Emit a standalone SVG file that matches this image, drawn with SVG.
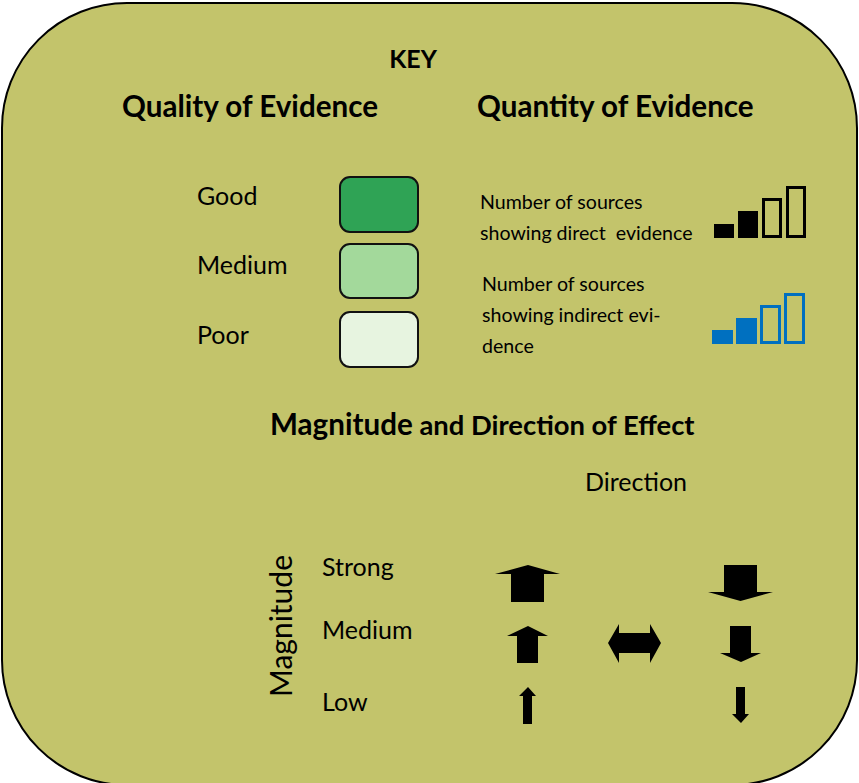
<svg xmlns="http://www.w3.org/2000/svg" width="859" height="783" viewBox="0 0 859 783">
  <style>
    text { font-family: Lato, "Open Sans", "Liberation Sans", sans-serif; fill: #000; }
    .title { font-weight: bold; font-size: 29.6px; }
    .label { font-size: 25px; }
    .small { font-size: 19.6px; }
    .swatch { stroke: #111; stroke-width: 2; }
    .bar-solid-k { fill: #000; }
    .bar-open-k { fill: none; stroke: #000; stroke-width: 3; }
    .bar-solid-b { fill: #0070c0; }
    .bar-open-b { fill: none; stroke: #0070c0; stroke-width: 3; }
    .arrow { fill: #000; }
  </style>

  <!-- background panel -->
  <rect x="2" y="3" width="855" height="782" rx="125" ry="125" fill="#c3c46b" stroke="#000" stroke-width="2"/>

  <text x="413" y="68" text-anchor="middle" font-weight="bold" font-size="25">KEY</text>

  <!-- quality of evidence -->
  <g id="quality">
    <text class="title" x="122" y="117">Quality of Evidence</text>
    <g id="quality-good">
      <text class="label" x="197" y="205">Good</text>
      <rect class="swatch" x="340" y="177" width="78" height="55" rx="10" fill="#2fa355"/>
    </g>
    <g id="quality-medium">
      <text class="label" x="197" y="274">Medium</text>
      <rect class="swatch" x="340" y="244" width="78" height="54" rx="10" fill="#a3d99b"/>
    </g>
    <g id="quality-poor">
      <text class="label" x="197" y="344">Poor</text>
      <rect class="swatch" x="340" y="312" width="78" height="55" rx="10" fill="#e7f4e0"/>
    </g>
  </g>

  <!-- quantity of evidence -->
  <g id="quantity">
    <text class="title" x="477" y="117">Quantity of Evidence</text>
    <g id="quantity-direct">
      <text class="small" x="480" y="209">Number of sources</text>
      <text class="small" x="480" y="240" xml:space="preserve">showing direct  evidence</text>
      <rect class="bar-solid-k" x="714" y="224" width="20" height="14"/>
      <rect class="bar-solid-k" x="738" y="211" width="20" height="27"/>
      <rect class="bar-open-k" x="763.5" y="199.5" width="17" height="37"/>
      <rect class="bar-open-k" x="787.5" y="187.5" width="17" height="49"/>
    </g>
    <g id="quantity-indirect">
      <text class="small" x="482" y="291">Number of sources</text>
      <text class="small" x="482" y="322">showing indirect evi-</text>
      <text class="small" x="482" y="353">dence</text>
      <rect class="bar-solid-b" x="712" y="330" width="21" height="14"/>
      <rect class="bar-solid-b" x="736" y="318" width="21" height="26"/>
      <rect class="bar-open-b" x="761.5" y="306.5" width="18" height="36"/>
      <rect class="bar-open-b" x="785.5" y="294.5" width="18" height="48"/>
    </g>
  </g>

  <!-- magnitude and direction -->
  <g id="effect">
    <text x="270" y="435" font-weight="bold"><tspan font-size="29.6">Magnitude</tspan><tspan font-size="27.4"> and Direction of Effect</tspan></text>
    <text class="label" x="585" y="491">Direction</text>
    <text x="292" y="697" font-size="30" transform="rotate(-90 292 697)">Magnitude</text>
    <text class="label" x="322" y="576">Strong</text>
    <text class="label" x="322" y="639">Medium</text>
    <text class="label" x="322" y="711">Low</text>
  </g>

  <g id="arrows">
    <polygon id="up-strong" class="arrow" points="528,565 560,574 544,574 544,602 511,602 511,574 495,574"/>
    <polygon id="up-medium" class="arrow" points="528,626 548,636 538,636 538,663 517,663 517,636 507,636"/>
    <polygon id="up-low" class="arrow" points="528,687 536,696 532,696 532,724 523,724 523,696 519,696"/>
    <polygon id="both-ways" class="arrow" points="608,643 619,624 619,633 650,633 650,624 661,643 650,663 650,653 619,653 619,663"/>
    <polygon id="down-strong" class="arrow" points="724,565 757,565 757,592 773,592 740.5,601 708,592 724,592"/>
    <polygon id="down-medium" class="arrow" points="730,626 751,626 751,653 761,653 741,662 720,653 730,653"/>
    <polygon id="down-low" class="arrow" points="736,687 745,687 745,714 749,714 741,723 732,714 736,714"/>
  </g>
</svg>
